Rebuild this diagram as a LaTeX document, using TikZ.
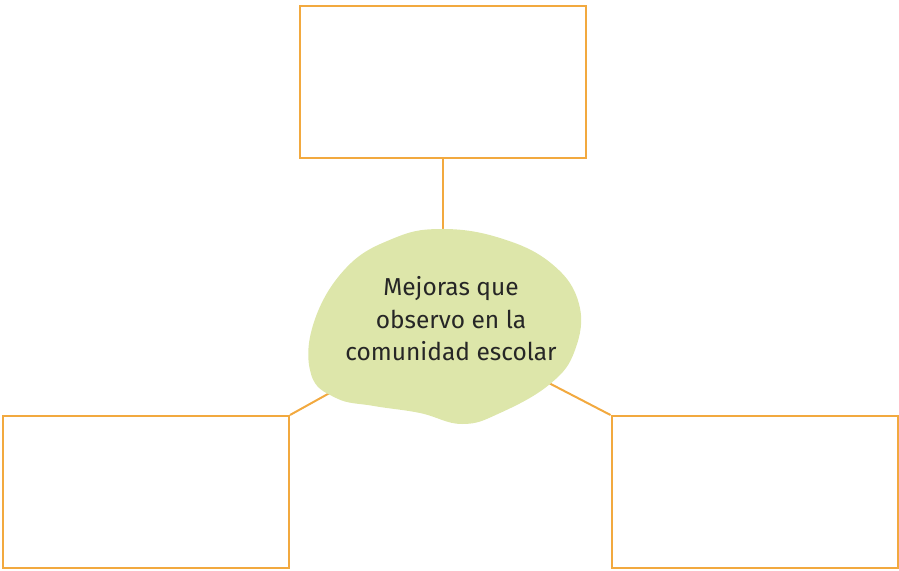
\documentclass[tikz,border=0pt]{standalone}
\usepackage{fontspec}
\setmainfont{Fira Sans}
\begin{document}
\begin{tikzpicture}[x=1pt,y=-1pt,
  frame/.style={draw=boxorange,line width=2pt,fill=white},
  link/.style={draw=boxorange,line width=2pt},
  blobtext/.style={align=center,font=\fontsize{24.5}{32.5}\selectfont,text=black!85}]
\definecolor{boxorange}{HTML}{F2A93F}
\definecolor{blobgreen}{HTML}{DDE6AA}
\useasboundingbox (0,0) rectangle (899,570);
% boxes
\node[frame,minimum width=286pt,minimum height=152pt,inner sep=0pt] (top) at (443,81.5) {};
\node[frame,minimum width=286pt,minimum height=152pt,inner sep=0pt] (left) at (146,492) {};
\node[frame,minimum width=286pt,minimum height=152pt,inner sep=0pt] (right) at (754.5,492) {};
% connector end points hidden under the blob
\coordinate (ctop) at (443,240);
\coordinate (cleft) at (335,390);
\coordinate (cright) at (545,381);
\draw[link] (top.south) -- (ctop);
\draw[link] (left.north east) -- (cleft);
\draw[link] (right.north west) -- (cright);
% blob
\fill[blobgreen] plot[smooth cycle,tension=0.7] coordinates{
 (440,229) (500,238) (552,264) (579,304) (575,350) (550,384)
 (500,413) (462,424) (420,413) (374,406) (336,398) (311,374)
 (314,322) (346,268) (392,239)};
\node[blobtext] (center) at (451,319) {Mejoras que\\observo en la\\comunidad escolar};
\end{tikzpicture}
\end{document}
